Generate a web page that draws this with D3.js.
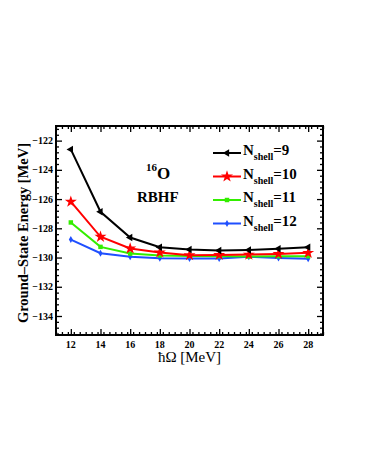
<!DOCTYPE html>
<html>
<head>
<meta charset="utf-8">
<script src="https://cdn.jsdelivr.net/npm/d3@7"></script>
<style>
  body { margin: 0; background: #fff; }
  svg { display: block; }
  text { font-family: "Liberation Serif", "DejaVu Serif", serif; }
</style>
</head>
<body>
<svg id="chart" width="366" height="473"></svg>
<script>
// hbar*Omega values (MeV)
const hw = [12, 14, 16, 18, 20, 22, 24, 26, 28];

// Ground-state energies for each N_shell (MeV)
const eShell9  = [-122.6, -126.87, -128.63, -129.29, -129.45, -129.52, -129.48, -129.40, -129.29];
const eShell10 = [-126.18, -128.58, -129.38, -129.65, -129.84, -129.82, -129.80, -129.75, -129.68];
const eShell11 = [-127.60, -129.27, -129.73, -129.86, -129.89, -129.91, -129.93, -129.91, -129.91];
const eShell12 = [-128.77, -129.70, -129.95, -130.05, -130.07, -130.07, -129.95, -130.03, -130.09];

const shellLabels = ["9", "10", "11", "12"];
const shellColors = ["#000000", "#ff0000", "#33ee00", "#1f4fff"];
const shellMarkers = ["triangle", "star", "square", "diamond"];

const xTicks = [12, 14, 16, 18, 20, 22, 24, 26, 28];
const yTicks = [-122, -124, -126, -128, -130, -132, -134];

const svg = d3.select("#chart");
const margin = { top: 126, right: 43, bottom: 138, left: 56 };
const width = 366 - margin.left - margin.right;
const height = 473 - margin.top - margin.bottom;

const x = d3.scaleLinear().domain([11, 29]).range([0, width]);
const y = d3.scaleLinear().domain([-135.3, -121]).range([height, 0]);

const g = svg.append("g").attr("transform", `translate(${margin.left},${margin.top})`);

// minor + major ticks on all four sides, pointing inward
const xMinor = d3.range(11, 29.001, 0.4).filter(v => Math.abs((v - 12) / 2 - Math.round((v - 12) / 2)) > 0.01);
const yMinor = d3.range(-135.2, -121, 0.4).filter(v => Math.abs(v / 2 - Math.round(v / 2)) > 0.01);

function tickAxis(axisFn, scale, values, size, transform) {
  const a = g.append("g").attr("transform", transform)
    .call(axisFn(scale).tickValues(values).tickSize(size).tickFormat(""));
  a.select(".domain").remove();
  a.selectAll("line").attr("stroke", "#000").attr("stroke-width", 1.3);
}
tickAxis(d3.axisTop, x, xTicks, 6, `translate(0,${height})`);
tickAxis(d3.axisTop, x, xMinor, 3, `translate(0,${height})`);
tickAxis(d3.axisBottom, x, xTicks, 6, "translate(0,0)");
tickAxis(d3.axisBottom, x, xMinor, 3, "translate(0,0)");
tickAxis(d3.axisRight, y, yTicks, 6, "translate(0,0)");
tickAxis(d3.axisRight, y, yMinor, 3, "translate(0,0)");
tickAxis(d3.axisLeft, y, yTicks, 6, `translate(${width},0)`);
tickAxis(d3.axisLeft, y, yMinor, 3, `translate(${width},0)`);

// tick labels
g.append("g").selectAll("text").data(xTicks).join("text")
  .attr("x", d => x(d)).attr("y", height + 13)
  .attr("text-anchor", "middle").attr("font-size", 10).attr("font-weight", "bold")
  .text(d => d);
g.append("g").selectAll("text").data(yTicks).join("text")
  .attr("x", -3).attr("y", d => y(d) + 3.5)
  .attr("text-anchor", "end").attr("font-size", 10).attr("font-weight", "bold")
  .text(d => "\u2212" + Math.abs(d));

// frame
g.append("rect").attr("width", width).attr("height", height)
  .attr("fill", "none").attr("stroke", "#000").attr("stroke-width", 2);

// axis titles
svg.append("text")
  .attr("transform", `translate(28,233) rotate(-90)`)
  .attr("text-anchor", "middle").attr("font-size", 14.5).attr("font-weight", "bold")
  .text("Ground\u2013State Energy [MeV]");
svg.append("text")
  .attr("x", margin.left + width / 2).attr("y", 362)
  .attr("text-anchor", "middle").attr("font-size", 15)
  .text("\u0127\u03a9 [MeV]");

// annotation
const ann = g.append("text").attr("x", 90).attr("y", 53).attr("font-weight", "bold");
ann.append("tspan").attr("font-size", 11).attr("dy", -8).text("16");
ann.append("tspan").attr("font-size", 17).attr("dy", 8).text("O");
g.append("text").attr("x", 81).attr("y", 76).attr("font-size", 15).attr("font-weight", "bold").text("RBHF");

// marker symbols
function markerPath(type) {
  if (type === "triangle") return d3.symbol(d3.symbolTriangle, 24)();
  if (type === "star") return d3.symbol(d3.symbolStar, 45)();
  if (type === "square") return d3.symbol(d3.symbolSquare, 20)();
  return d3.symbol(d3.symbolDiamond, 14)();
}
function markerRotate(type) { return type === "triangle" ? " rotate(-90)" : ""; }

const series = [eShell9, eShell10, eShell11, eShell12];
const line = d3.line().x((d, i) => x(hw[i])).y(d => y(d));

// draw from N=12 up so N=9 is on top
[3, 2, 1, 0].forEach(k => {
  const s = g.append("g");
  s.append("path").datum(series[k]).attr("d", line)
    .attr("fill", "none").attr("stroke", shellColors[k]).attr("stroke-width", 2);
  s.selectAll("path.m").data(series[k]).join("path").attr("class", "m")
    .attr("d", markerPath(shellMarkers[k]))
    .attr("transform", (d, i) => `translate(${x(hw[i])},${y(d)})${markerRotate(shellMarkers[k])}`)
    .attr("fill", shellColors[k]);
});

// legend
const legend = g.append("g");
shellLabels.forEach((lab, k) => {
  const ly = 27 + k * 23.5;
  legend.append("line").attr("x1", 157).attr("x2", 185).attr("y1", ly).attr("y2", ly)
    .attr("stroke", shellColors[k]).attr("stroke-width", 2);
  legend.append("path").attr("d", markerPath(shellMarkers[k]))
    .attr("transform", `translate(171,${ly})${markerRotate(shellMarkers[k])}`)
    .attr("fill", shellColors[k]);
  const t = legend.append("text").attr("x", 187).attr("y", ly + 2).attr("font-weight", "bold");
  t.append("tspan").attr("font-size", 15).text("N");
  t.append("tspan").attr("font-size", 10).attr("dy", 5).text("shell");
  t.append("tspan").attr("font-size", 15).attr("dy", -5).text("=" + lab);
});
</script>
</body>
</html>
